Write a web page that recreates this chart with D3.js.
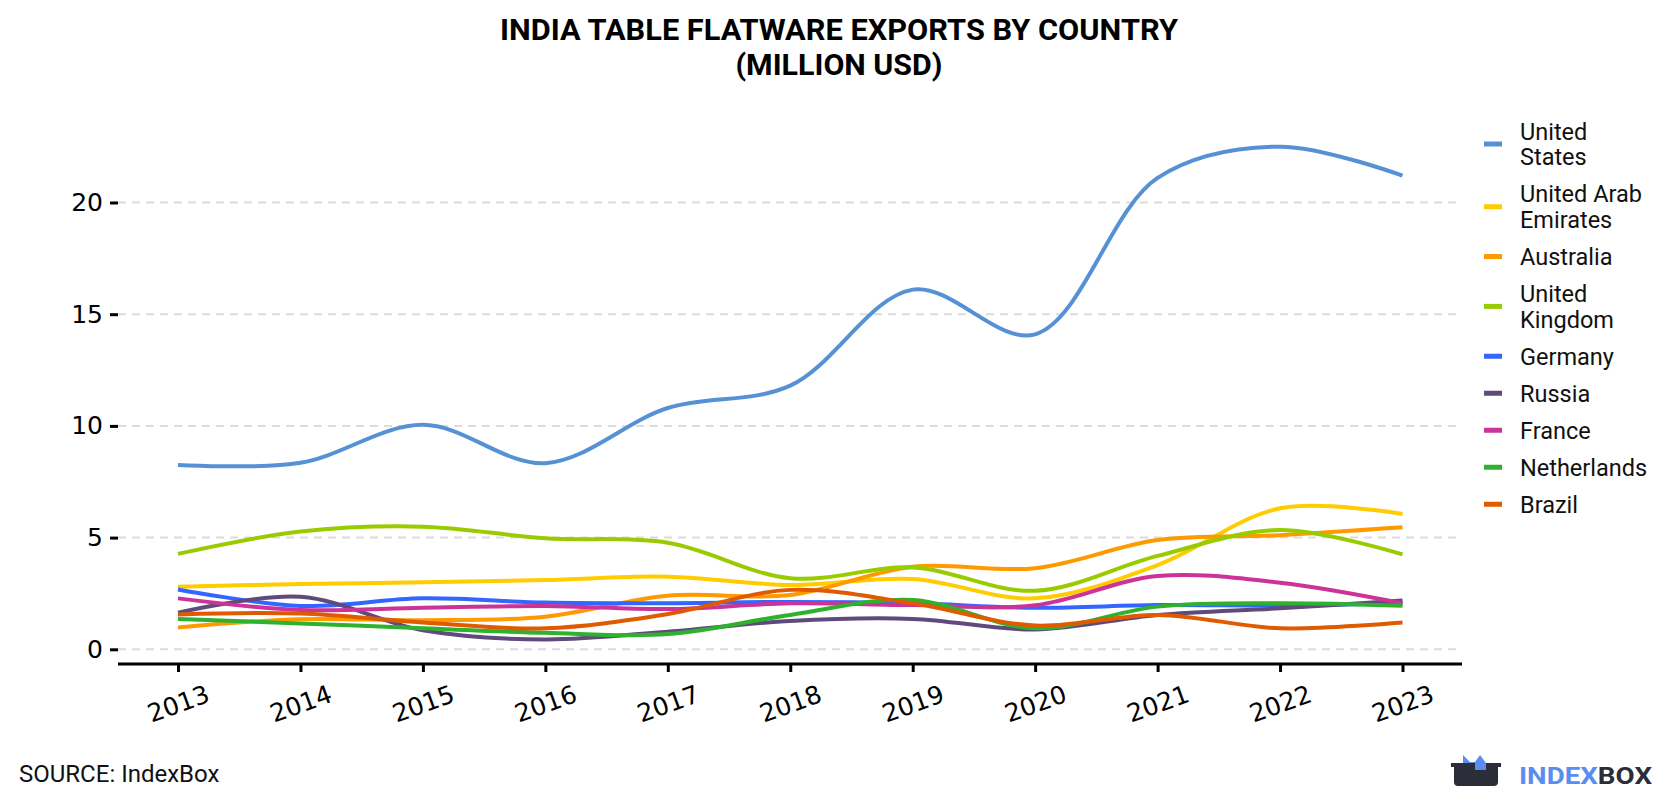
<!DOCTYPE html>
<html>
<head>
<meta charset="utf-8">
<script src="https://cdn.jsdelivr.net/npm/d3@7"></script>
<style>
  html, body { margin: 0; padding: 0; background: #fff; }
  svg { display: block; }
</style>
</head>
<body>
<svg id="chart" width="1680" height="800"></svg>
<script>
const years = [2013, 2014, 2015, 2016, 2017, 2018, 2019, 2020, 2021, 2022, 2023];
const yTicks = [0, 5, 10, 15, 20];

const unitedStates = [8.25, 8.35, 10.05, 8.33, 10.8, 11.8, 16.1, 14.1, 21.1, 22.5, 21.2];
const uae          = [2.8, 2.92, 3.0, 3.1, 3.25, 2.88, 3.15, 2.28, 3.77, 6.31, 6.06];
const australia    = [0.98, 1.35, 1.3, 1.46, 2.4, 2.43, 3.7, 3.63, 4.89, 5.11, 5.46];
const unitedKingdom= [4.27, 5.27, 5.49, 4.97, 4.77, 3.18, 3.66, 2.62, 4.18, 5.34, 4.25];
const germany      = [2.68, 1.94, 2.28, 2.09, 2.06, 2.12, 2.06, 1.86, 1.98, 1.96, 2.06];
const russia       = [1.64, 2.35, 0.85, 0.44, 0.79, 1.27, 1.36, 0.89, 1.54, 1.84, 2.18];
const france       = [2.28, 1.76, 1.86, 1.94, 1.8, 2.06, 1.98, 1.97, 3.28, 2.98, 2.06];
const netherlands  = [1.36, 1.16, 0.94, 0.74, 0.68, 1.54, 2.21, 0.94, 1.91, 2.06, 1.95];
const brazil       = [1.56, 1.6, 1.2, 0.94, 1.58, 2.66, 2.06, 1.06, 1.54, 0.94, 1.2];

const seriesNames = [["United", "States"], ["United Arab", "Emirates"], ["Australia"], ["United", "Kingdom"], ["Germany"], ["Russia"], ["France"], ["Netherlands"], ["Brazil"]];
const seriesValues = [unitedStates, uae, australia, unitedKingdom, germany, russia, france, netherlands, brazil];
const seriesColors = ["#5691d6", "#ffcc00", "#ff9900", "#99cc00", "#3366ff", "#604a7b", "#cc3399", "#2eb22e", "#e05a00"];

const svg = d3.select("#chart");

const x = d3.scaleLinear().domain([2013, 2023]).range([178, 1402.5]);
const y = d3.scaleLinear().domain([0, 20]).range([649.3, 202.5]);

// Title
const title = svg.append("g").attr("font-family", "Roboto, sans-serif").attr("font-weight", 700).attr("fill", "#000");
title.append("text").attr("x", 839).attr("y", 39.5).attr("text-anchor", "middle").attr("font-size", 29)
  .attr("textLength", 678).attr("lengthAdjust", "spacingAndGlyphs").text("INDIA TABLE FLATWARE EXPORTS BY COUNTRY");
title.append("text").attr("x", 839).attr("y", 75).attr("text-anchor", "middle").attr("font-size", 29)
  .attr("textLength", 207).attr("lengthAdjust", "spacingAndGlyphs").text("(MILLION USD)");

// Grid
svg.append("g").selectAll("line").data(yTicks).join("line")
  .attr("x1", 118).attr("x2", 1462)
  .attr("y1", d => y(d)).attr("y2", d => y(d))
  .attr("stroke", "#dcdcdc").attr("stroke-width", 2).attr("stroke-dasharray", "8,6");

// Y axis ticks & labels
const yAxis = svg.append("g").attr("transform", "translate(118,0)")
  .call(d3.axisLeft(y).tickValues(yTicks).tickSize(8).tickPadding(7));
yAxis.select(".domain").remove();
yAxis.selectAll(".tick line").attr("stroke", "#000").attr("stroke-width", 3);
yAxis.selectAll(".tick text").attr("font-family", "'DejaVu Sans', sans-serif").attr("font-size", 25).attr("fill", "#000");

// X axis
const xAxis = svg.append("g").attr("transform", "translate(0,664)")
  .call(d3.axisBottom(x).tickValues(years).tickFormat(d3.format("d")).tickSize(8).tickSizeOuter(0));
xAxis.select(".domain").attr("d", "M118,0H1462").attr("stroke", "#000").attr("stroke-width", 3);
xAxis.selectAll(".tick line").attr("stroke", "#000").attr("stroke-width", 3);
xAxis.selectAll(".tick text")
  .attr("font-family", "'DejaVu Sans', sans-serif").attr("font-size", 25).attr("fill", "#000")
  .attr("y", 0).attr("dy", 0)
  .attr("text-anchor", "middle").attr("dominant-baseline", "central")
  .attr("transform", "translate(0,40) rotate(-20)");

// Lines
const line = d3.line().x((d, i) => x(years[i])).y(d => y(d)).curve(d3.curveCatmullRom);
svg.append("g").selectAll("path").data(seriesValues).join("path")
  .attr("d", d => line(d))
  .attr("fill", "none")
  .attr("stroke", (d, i) => seriesColors[i])
  .attr("stroke-width", 4)
  .attr("stroke-linecap", "butt")
  .attr("stroke-linejoin", "round");

// Legend
const legend = svg.append("g").attr("font-family", "Roboto, sans-serif").attr("font-size", 23.5).attr("fill", "#111");
const lineH = 25.7, gap = 11.3;
let cy = 0;
let prevHalf = 0;
seriesNames.forEach((lines, i) => {
  const half = lines.length * lineH / 2;
  cy = (i === 0) ? 144 : cy + prevHalf + gap + half;
  prevHalf = half;
  legend.append("line").attr("x1", 1484).attr("x2", 1502).attr("y1", cy).attr("y2", cy)
    .attr("stroke", seriesColors[i]).attr("stroke-width", 5);
  lines.forEach((t, j) => {
    legend.append("text").attr("x", 1520)
      .attr("y", cy - (lines.length - 1) * lineH / 2 + j * lineH + 8.6)
      .text(t);
  });
});

// Source
svg.append("text").attr("x", 19).attr("y", 782).attr("font-family", "Roboto, sans-serif")
  .attr("font-size", 24).attr("fill", "#111").text("SOURCE: IndexBox");

// Logo
const logo = svg.append("g");
logo.append("path").attr("fill", "#5b8def")
  .attr("d", "M1463,771 L1463,755 L1470,762 L1475,762 L1480,755 L1486,763 L1486,771 Z");
logo.append("path").attr("fill", "#2b2d38")
  .attr("d", "M1451,763 L1475,763 L1475,770 L1486,770 L1486,763 L1501,763 L1501,767 L1498,767 L1498,782 Q1498,786 1494,786 L1458,786 Q1454,786 1454,782 L1454,767 L1451,767 Z");
const logoText = logo.append("text").attr("x", 1519).attr("y", 783.5)
  .attr("font-family", "Roboto, sans-serif").attr("font-weight", 700).attr("font-size", 24)
  .attr("textLength", 133).attr("lengthAdjust", "spacingAndGlyphs");
logoText.append("tspan").attr("fill", "#5b8def").text("INDEX");
logoText.append("tspan").attr("fill", "#2b2d38").text("BOX");
</script>
</body>
</html>
